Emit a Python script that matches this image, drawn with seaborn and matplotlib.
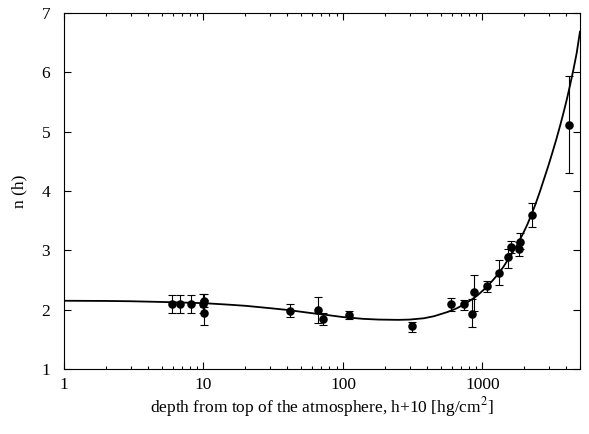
import numpy as np
import pandas as pd
import matplotlib
matplotlib.use("Agg")
import matplotlib.pyplot as plt
import matplotlib.ticker as mticker
import seaborn as sns

# Measured points
depth = [5.9, 6.8, 8.2, 9.9, 10.1, 10.1, 42, 66, 72, 111, 312, 594, 741, 836, 869,
         1070, 1306, 1530, 1592, 1836, 1857, 2250, 4150]
n_val = [2.10, 2.10, 2.10, 2.10, 2.15, 1.95, 1.98, 1.99, 1.85, 1.91, 1.72, 2.09, 2.10,
         1.93, 2.29, 2.40, 2.62, 2.89, 3.05, 3.02, 3.14, 3.60, 5.11]
n_lo = [1.95, 1.95, 1.95, 1.95, 2.05, 1.74, 1.87, 1.78, 1.74, 1.84, 1.63, 1.98, 2.00,
        1.70, 1.98, 2.30, 2.42, 2.71, 2.95, 2.90, 3.02, 3.39, 4.30]
n_hi = [2.25, 2.25, 2.25, 2.26, 2.26, 2.16, 2.10, 2.22, 1.95, 1.98, 1.80, 2.20, 2.17,
        2.18, 2.59, 2.49, 2.84, 3.03, 3.16, 3.14, 3.30, 3.79, 5.93]

# Fitted curve
curve_x = [1, 2, 3, 5, 7, 10, 15, 20, 30, 40, 50, 65, 80, 100, 140, 180, 250, 300,
           380, 450, 560, 650, 740, 830, 920, 1070, 1180, 1306, 1420, 1530, 1650,
           1760, 1960, 2100, 2250, 2400, 2580, 2750, 2970, 3200, 3400, 3600, 3800,
           4000, 4240, 4480, 4730, 5000]
curve_y = [2.15, 2.147, 2.142, 2.13, 2.12, 2.11, 2.085, 2.065, 2.025, 1.995, 1.965,
           1.93, 1.905, 1.875, 1.845, 1.833, 1.828, 1.833, 1.855, 1.89, 1.96, 2.02,
           2.09, 2.165, 2.24, 2.38, 2.49, 2.61, 2.73, 2.85, 2.97, 3.08, 3.29, 3.44,
           3.61, 3.78, 3.99, 4.19, 4.43, 4.68, 4.89, 5.10, 5.31, 5.52, 5.78, 6.04,
           6.32, 6.69]

pts = pd.DataFrame({"depth": depth, "n": n_val, "lo": n_lo, "hi": n_hi})
fit = pd.DataFrame({"x": curve_x, "y": curve_y})

sns.set_style("ticks", {"axes.edgecolor": "black", "text.color": "black",
                        "xtick.color": "black", "ytick.color": "black",
                        "axes.labelcolor": "black"})
plt.rcParams["font.family"] = ["Liberation Serif", "DejaVu Serif"]
plt.rcParams["mathtext.fontset"] = "stix"

fig = plt.figure(figsize=(5.89, 4.34), dpi=100)
ax = fig.add_axes([64 / 589, 65 / 434, 516 / 589, 356 / 434])

sns.lineplot(data=fit, x="x", y="y", ax=ax, color="black", linewidth=1.3)
ax.errorbar(pts["depth"], pts["n"],
            yerr=[pts["n"] - pts["lo"], pts["hi"] - pts["n"]],
            fmt="none", ecolor="black", elinewidth=0.8, capsize=3, capthick=0.8)
sns.scatterplot(data=pts, x="depth", y="n", ax=ax, color="black", s=38,
                edgecolor="black", linewidth=0, zorder=3)

ax.set_xscale("log")
ax.set_xlim(1, 5000)
ax.set_ylim(1, 7)
ax.xaxis.set_major_locator(mticker.FixedLocator([1, 10, 100, 1000]))
ax.xaxis.set_major_formatter(mticker.FixedFormatter(["1", "10", "100", "1000"]))
ax.xaxis.set_minor_locator(mticker.LogLocator(base=10, subs=np.arange(2, 10)))
ax.xaxis.set_minor_formatter(mticker.NullFormatter())
ax.yaxis.set_major_locator(mticker.MultipleLocator(1))

ax.tick_params(which="both", direction="in", top=True, right=True,
               labelsize=12.5, width=0.8)
ax.tick_params(axis="x", which="major", length=5, pad=6)
ax.tick_params(axis="y", which="major", length=5, pad=10)
ax.tick_params(which="minor", length=2.5)
for s in ax.spines.values():
    s.set_linewidth(0.8)

ax.set_xlabel("depth from top of the atmosphere, h+10 [hg/cm$^2$]", fontsize=12.5,
              labelpad=1)
ax.set_ylabel("n (h)", fontsize=12.5, labelpad=10)

fig.savefig("out.png", dpi=100)
